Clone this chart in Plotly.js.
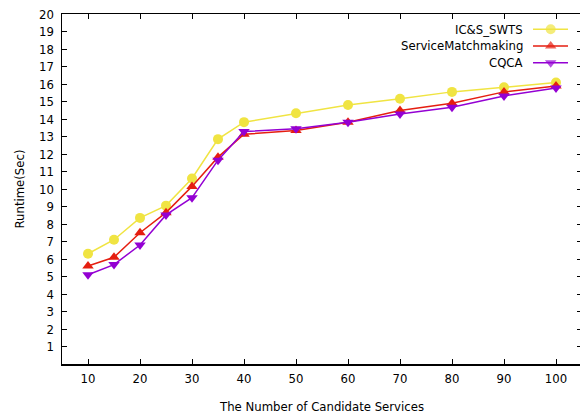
<!DOCTYPE html>
<html>
<head>
<meta charset="utf-8">
<script src="https://cdn.plot.ly/plotly-3.0.1.min.js"></script>
<style>
html,body{margin:0;padding:0;overflow:hidden;background:#fff;width:580px;height:417px;}
#chart{width:584px;height:417px;}
</style>
</head>
<body>
<div id="chart"></div>
<script>
// ---- data ----
const xValues = [10, 15, 20, 25, 30, 35, 40, 50, 60, 70, 80, 90, 100];
const icsSwts = [6.3, 7.1, 8.35, 9.05, 10.6, 12.85, 13.82, 14.33, 14.8, 15.16, 15.55, 15.81, 16.08];
const serviceMatch = [5.6, 6.1, 7.5, 8.65, 10.15, 11.82, 13.13, 13.34, 13.81, 14.48, 14.9, 15.55, 15.89];
const cqca = [5.1, 5.68, 6.8, 8.52, 9.5, 11.65, 13.28, 13.45, 13.81, 14.29, 14.67, 15.32, 15.77];
const seriesNames = ['IC&S_SWTS', 'ServiceMatchmaking', 'CQCA'];
const xTickVals = [10, 20, 30, 40, 50, 60, 70, 80, 90, 100];
const yTickVals = [1,2,3,4,5,6,7,8,9,10,11,12,13,14,15,16,17,18,19,20];

// ---- styles ----
const colors = ['#F0E442', '#E51E10', '#9400D3'];
const symbols = ['circle', 'triangle-up', 'triangle-down'];
const markerSizes = [10, 10, 10];
const font = '"DejaVu Sans Condensed", "DejaVu Sans", Verdana, sans-serif';
const fsize = 13;

const allSeries = [icsSwts, serviceMatch, cqca];
const traces = allSeries.map((ys, i) => ({
  type: 'scatter', mode: 'lines+markers',
  x: xValues, y: ys, name: seriesNames[i],
  line: {color: colors[i], width: 1.5},
  marker: {symbol: symbols[i], size: markerSizes[i], color: colors[i], line: {width: 0}},
  showlegend: false, cliponaxis: false
}));

// custom gnuplot-style legend (text left, sample right) on an overlay [0,1] axis
const legRows = [0.9563, 0.9086, 0.8609];
const legLineX = [0.9058, 0.9398, 0.9731];
const legTextX = 0.8904;
const annotations = [];
seriesNames.forEach((n, i) => {
  traces.push({
    type: 'scatter', mode: 'lines+markers', xaxis: 'x2', yaxis: 'y2',
    x: legLineX, y: [legRows[i], legRows[i], legRows[i]],
    line: {color: colors[i], width: 1.5},
    marker: {symbol: symbols[i], size: [0, markerSizes[i], 0], color: colors[i], line: {width: 0}},
    showlegend: false, hoverinfo: 'skip', cliponaxis: false
  });
  annotations.push({
    xref: 'paper', yref: 'paper', x: legTextX, y: legRows[i],
    xanchor: 'right', yanchor: 'middle', text: n, showarrow: false,
    font: {family: font, size: fsize, color: '#000'}
  });
});

const axisCommon = {
  showline: true, linecolor: '#000', linewidth: 1.5, mirror: 'ticks',
  ticks: 'inside', ticklen: 5, tickwidth: 1, tickcolor: '#000',
  showgrid: false, zeroline: false,
  tickfont: {family: font, size: fsize, color: '#000'}
};

const layout = {
  width: 584, height: 417,
  margin: {l: 62, r: 2, t: 14, b: 53},
  paper_bgcolor: '#fff', plot_bgcolor: '#fff',
  showlegend: false,
  xaxis: Object.assign({}, axisCommon, {
    range: [5, 105], tickvals: xTickVals, ticktext: xTickVals.map(String),
    ticklabelstandoff: 2,
    title: {text: 'The Number of Candidate Services', font: {family: font, size: fsize, color: '#000'}, standoff: 17}
  }),
  yaxis: Object.assign({}, axisCommon, {
    range: [0, 20], tickvals: yTickVals, ticktext: yTickVals.map(String),
    ticklabelstandoff: 4,
    title: {text: 'Runtime(Sec)', font: {family: font, size: fsize, color: '#000'}, standoff: 11}
  }),
  xaxis2: {overlaying: 'x', range: [0, 1], visible: false},
  yaxis2: {overlaying: 'y', range: [0, 1], visible: false},
  annotations: annotations
};

Plotly.newPlot('chart', traces, layout, {staticPlot: true, displayModeBar: false});
</script>
</body>
</html>
